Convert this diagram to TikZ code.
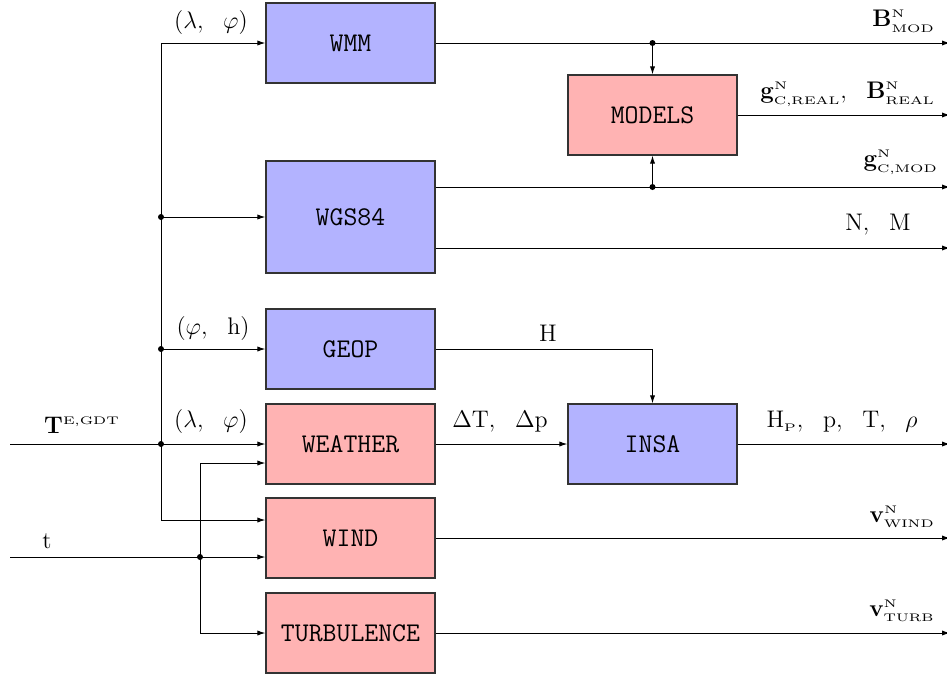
\documentclass[tikz,border=0pt]{standalone}
\usepackage{graphicx}
\usetikzlibrary{arrows.meta}
\definecolor{bluebox}{RGB}{179,179,255}
\definecolor{redbox}{RGB}{255,179,179}
\newcommand{\sss}[1]{\hbox{\scalebox{1.3}[1]{\fontsize{5.5}{6}\selectfont #1}}}
\begin{document}
\begin{tikzpicture}[x=0.5pt,y=-0.5pt,
  blk/.style={draw=black!80, line width=0.6pt, minimum width=84.5pt, minimum height=40pt, inner sep=0pt, font=\fontsize{13.5}{15}\selectfont\ttfamily},
  bbox/.style={blk, fill=bluebox},
  rbox/.style={blk, fill=redbox},
  wire/.style={line width=0.5pt},
  arr/.style={wire, -{Latex[length=4pt,width=2.6pt]}},
  jdot/.style={circle, fill, inner sep=0pt, minimum size=3pt},
  lbl/.style={inner sep=0pt, font=\fontsize{12}{14}\selectfont}]
\useasboundingbox (0,0) rectangle (947,675);
% boxes
\node[bbox] (wmm) at (350.5,43) {WMM};
\node[bbox, minimum height=56pt] (wgs) at (350.5,217) {WGS84};
\node[bbox] (geop) at (350.5,349) {GEOP};
\node[rbox] (weather) at (350.5,444) {WEATHER};
\node[rbox] (wind) at (350.5,538) {WIND};
\node[rbox] (turb) at (350.5,633) {TURBULENCE};
\node[rbox] (models) at (652.5,115) {MODELS};
\node[bbox] (insa) at (652.5,444) {INSA};
% junctions
\coordinate (jtop) at (161,43);
\coordinate (jwgs) at (161,217);
\coordinate (jgeop) at (161,349);
\coordinate (jT) at (161,444);
\coordinate (jbot) at (161,520);
\coordinate (Tin) at (10,444);
\coordinate (tin) at (10,557);
\coordinate (jt) at (200,557);
\coordinate (jtw) at (200,463);
\coordinate (jtt) at (200,633);
\coordinate (jwmm) at (652.5,43);
\coordinate (jg) at (652.5,187);
\coordinate (oB) at (950,43);
\coordinate (oM) at (950,115);
\coordinate (oG) at (950,187);
\coordinate (oNM) at (950,248);
\coordinate (oI) at (950,444);
\coordinate (oW) at (950,538);
\coordinate (oT) at (950,633);
% inputs
\draw[wire] (Tin) -- (jT);
\draw[arr] (jT) -- (weather.west);
\draw[wire] (jtop) -- (jbot);
\draw[arr] (jtop) -- (wmm.west);
\draw[arr] (jwgs) -- (wgs.west);
\draw[arr] (jgeop) -- (geop.west);
\draw[arr] (jbot) -- (wind.west |- jbot);
\draw[wire] (tin) -- (jt);
\draw[arr] (jt) -- (wind.west |- jt);
\draw[wire] (jtw) -- (jtt);
\draw[arr] (jtw) -- (weather.west |- jtw);
\draw[arr] (jtt) -- (turb.west);
% outputs
\draw[arr] (wmm.east) -- (oB);
\draw[arr] (jwmm) -- (models.north);
\draw[arr] (models.east) -- (oM);
\draw[arr] (wgs.east |- jg) -- (oG);
\draw[arr] (jg) -- (models.south);
\draw[arr] (wgs.east |- oNM) -- (oNM);
\draw[arr] (geop.east) -| (insa.north);
\draw[arr] (weather.east) -- (insa.west);
\draw[arr] (insa.east) -- (oI);
\draw[arr] (wind.east) -- (oW);
\draw[arr] (turb.east) -- (oT);
% dots
\foreach \c in {jwgs,jgeop,jT,jt,jwmm,jg} \node[jdot] at (\c) {};
% labels
\node[lbl] (lwmm) at (211,22) {$(\lambda,\ \ \varphi)$};
\node[lbl] (lgeop) at (213,328) {$(\varphi,\ \ \mathrm{h})$};
\node[lbl] (lwea) at (211,421) {$(\lambda,\ \ \varphi)$};
\node[lbl] (lT) at (82,425) {$\mathbf{T}^{\sss{E,GDT}}$};
\node[lbl] (lt) at (47,541) {$\mathrm{t}$};
\node[lbl] (lH) at (548,333) {$\mathrm{H}$};
\node[lbl] (ldT) at (500,422) {$\Delta\mathrm{T},\ \ \Delta\mathrm{p}$};
\node[lbl, anchor=east] (lI) at (918,422) {$\mathrm{H}_{\sss{P}},\ \ \mathrm{p},\ \ \mathrm{T},\ \ \rho$};
\node[lbl, anchor=east] (lB) at (935,21) {$\mathbf{B}^{\sss{N}}_{\sss{MOD}}$};
\node[lbl, anchor=east] (lM) at (935,94) {$\mathbf{g}^{\sss{N}}_{\sss{C,REAL}},\ \ \mathbf{B}^{\sss{N}}_{\sss{REAL}}$};
\node[lbl, anchor=east] (lG) at (938,162) {$\mathbf{g}^{\sss{N}}_{\sss{C,MOD}}$};
\node[lbl, anchor=east] (lNM) at (911,225) {$\mathrm{N},\ \ \mathrm{M}$};
\node[lbl, anchor=east] (lW) at (935,517) {$\mathbf{v}^{\sss{N}}_{\sss{WIND}}$};
\node[lbl, anchor=east] (lTu) at (935,611) {$\mathbf{v}^{\sss{N}}_{\sss{TURB}}$};
\end{tikzpicture}
\end{document}
